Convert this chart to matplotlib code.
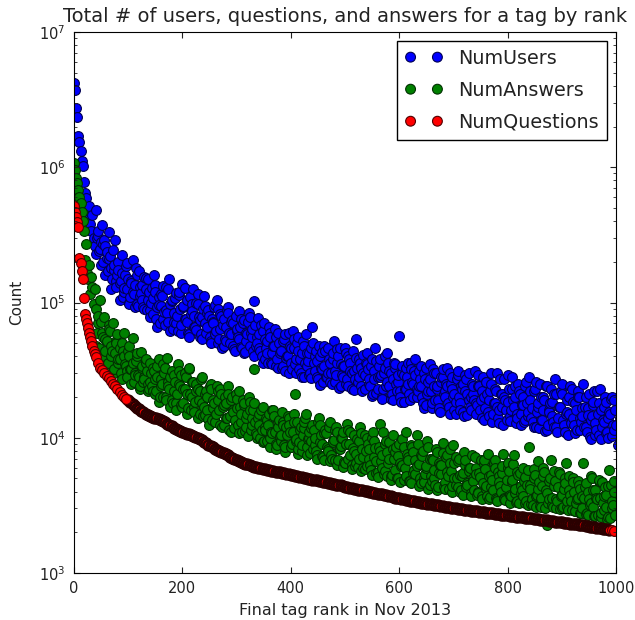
import numpy as np
import matplotlib
matplotlib.use('Agg')
import matplotlib.pyplot as plt

# first 40 ranks are read every 2, the rest every 4, the *_b and *_c lists fill the ranks between
head_rank = list(range(0, 40, 2))

users_head = [4200000, 3700000, 2750000, 2350000, 1700000, 1550000, 1320000, 1120000, 1030000, 780000,
              640000, 590000, 470000, 420000, 520000, 380000, 340000, 440000, 300000, 260000]
users_tail = [
    480000, 310000, 250000, 375000, 290000, 215000, 330000, 180000, 245000, 290000, 160000, 140000, 225000, 120000, 185000, 150000, 110000, 205000, 135000, 98000, 170000, 118000, 92000, 152000, 105000,
    88000, 128000, 160000, 75000, 110000, 95000, 132000, 68000, 84000, 150000, 102000, 72000, 118000, 62000, 90000, 138000, 76000, 105000, 58000, 82000, 125000, 66000, 98000, 56000, 78000,
    112000, 60000, 88000, 52000, 72000, 96000, 105000, 54000, 80000, 48000, 66000, 92000, 50000, 74000, 45000, 62000, 86000, 47000, 70000, 43000, 58000, 78000, 56000, 103000, 48000,
    77000, 44000, 62000, 38000, 52000, 66000, 36000, 48000, 34000, 60000, 42000, 33000, 54000, 39000, 30000, 46000, 62000, 35000, 50000, 32000, 42000, 28000, 58000, 37000, 30000,
    66000, 40000, 28000, 48000, 33000, 26000, 44000, 30000, 36000, 25000, 52000, 29000, 40000, 24000, 34000, 46000, 27000, 38000, 23000, 31000, 54000, 26000, 36000, 22000, 29000,
    42000, 25000, 34000, 21000, 46000, 28000, 38000, 20000, 30000, 24000, 36000, 19500, 27000, 33000, 22000, 57000, 18500, 29000, 23000, 36000, 19000, 26000, 31000, 20000, 24000,
    34000, 18000, 27000, 21000, 35000, 16500, 24000, 30000, 19000, 15500, 28000, 22000, 33000, 17000, 25000, 20000, 15000, 29000, 18000, 23000, 14500, 27000, 19000, 16000, 21000,
    31000, 17500, 24000, 14000, 20000, 26000, 15500, 22000, 13000, 18000, 30000, 16000, 21000, 12500, 19000, 29000, 14500, 23000, 17000, 12800, 25000, 15000, 20000, 13500, 18000,
    28000, 14000, 22000, 12000, 17000, 25000, 13500, 19000, 11500, 16000, 23000, 13000, 27000, 11000, 17000, 21000, 12500, 15000, 10500, 24000, 14000, 18000, 11500, 20000, 13000,
    25000, 12000, 16500, 10200, 14500, 22000, 11500, 18000, 9800, 13500, 20000, 11000, 15500, 10300, 19000, 12500, 8800, 14000, 21000, 11000]
users_b = [
    300000, 240000, 280000, 200000, 260000, 170000, 220000, 150000, 190000, 130000, 175000, 145000, 110000, 160000, 125000, 98000, 140000, 115000, 180000, 95000, 130000, 105000, 155000, 88000, 120000,
    100000, 82000, 120000, 92000, 70000, 112000, 85000, 130000, 72000, 98000, 64000, 108000, 80000, 120000, 68000, 94000, 75000, 60000, 110000, 86000, 66000, 100000, 78000, 58000, 90000,
    70000, 84000, 56000, 76000, 92000, 62000, 50000, 82000, 68000, 54000, 88000, 60000, 72000, 48000, 80000, 56000, 66000, 46000, 74000, 52000, 84000, 60000, 44000, 68000, 50000,
    58000, 40000, 70000, 46000, 36000, 56000, 42000, 64000, 38000, 50000, 44000, 34000, 58000, 40000, 48000, 32000, 54000, 38000, 44000, 30000, 52000, 36000, 42000, 29000, 46000,
    36000, 44000, 27000, 40000, 32000, 48000, 28000, 38000, 30000, 42000, 26000, 36000, 46000, 29000, 34000, 25000, 40000, 31000, 44000, 27000, 33000, 38000, 24000, 30000, 36000,
    32000, 24000, 38000, 27000, 21500, 34000, 29000, 23000, 40000, 26000, 31000, 21000, 36000, 25000, 29000, 20000, 34000, 23000, 28000, 21000, 32000, 25000, 38000, 22000, 27000,
    20000, 30000, 17500, 26000, 22000, 32000, 19000, 24000, 16500, 28000, 21000, 25000, 18000, 30000, 23000, 16000, 27000, 20000, 24000, 15500, 29000, 21000, 17000, 25000, 19000,
    15000, 24000, 19000, 28000, 16500, 21000, 14500, 25000, 18000, 22000, 14000, 27000, 17000, 20000, 13500, 23000, 16000, 19000, 24000, 14000, 21000, 17500, 13000, 26000, 15500,
    19000, 13000, 23000, 15500, 11800, 20000, 16000, 24000, 12500, 18000, 14500, 21000, 12000, 17000, 22000, 13500, 11000, 19000, 15000, 23000, 12500, 16000, 20000, 11500, 14500,
    17000, 11000, 21000, 13500, 18500, 10500, 15000, 23000, 12000, 17000, 10800, 14000, 19500, 12500, 16000]
users_c = [
    230000, 340000, 190000, 270000, 160000, 235000, 210000, 125000, 175000, 145000, 200000, 105000, 165000, 128000, 195000, 100000, 145000, 120000, 92000, 160000, 112000, 135000, 90000, 125000, 150000,
    78000, 108000, 135000, 66000, 96000, 115000, 76000, 88000, 125000, 62000, 104000, 84000, 70000, 114000, 60000, 92000, 128000, 72000, 56000, 98000, 80000, 63000, 115000, 74000, 54000,
    94000, 66000, 80000, 50000, 70000, 58000, 90000, 64000, 46000, 76000, 52000, 84000, 58000, 70000, 44000, 64000, 54000, 76000, 42000, 60000, 72000, 48000, 64000, 40000, 56000,
    46000, 68000, 36000, 54000, 42000, 60000, 35000, 48000, 56000, 33000, 44000, 52000, 31000, 40000, 60000, 36000, 46000, 30000, 56000, 38000, 28000, 48000, 34000, 42000, 27500,
    50000, 31000, 37000, 24500, 43000, 34000, 28000, 46000, 26000, 38000, 31000, 45000, 23500, 35000, 28000, 42000, 24000, 36000, 30000, 22500, 39000, 28000, 33000, 41000, 23000,
    35000, 27000, 20500, 31000, 37000, 23000, 28000, 19500, 33000, 42000, 24000, 30000, 19000, 35000, 26000, 22000, 30000, 18500, 33000, 25000, 36000, 20000, 29000, 23000, 31000,
    24000, 16500, 33000, 22000, 27000, 18000, 30000, 23000, 16000, 26000, 32000, 20000, 24000, 15000, 28000, 21000, 18500, 31000, 16000, 25000, 22000, 14800, 30000, 20000, 24000,
    18000, 29000, 16000, 22000, 13500, 26000, 19000, 30000, 15000, 23000, 17000, 12800, 21000, 27000, 16000, 18500, 13200, 28000, 20000, 15000, 22000, 12500, 17500, 24000, 14500,
    22000, 16500, 12000, 26000, 18000, 13500, 20000, 11200, 24000, 15500, 18500, 12000, 21000, 14000, 17000, 25000, 11000, 15500, 20000, 12800, 18500, 10800, 22000, 14000, 16500,
    12000, 20000, 14800, 9800, 17500, 12800, 22000, 10500, 16000, 13000, 18500, 10000, 15000, 20000, 11500]

answers_head = [1070000, 960000, 830000, 760000, 675000, 600000, 540000, 470000, 400000, 340000,
                205000, 270000, 165000, 150000, 190000, 115000, 155000, 130000, 98000, 125000]
answers_tail = [
    90000, 70000, 105000, 60000, 78000, 52000, 68000, 48000, 70000, 42000, 58000, 38000, 50000, 59000, 34000, 44000, 32000, 55000, 30000, 40000, 28000, 43000, 26000, 36000, 25000,
    36000, 24000, 31000, 22000, 38000, 27000, 20000, 33000, 39000, 23000, 19000, 29000, 18000, 35000, 24000, 17000, 30000, 21000, 32000, 16000, 26000, 18500, 23000, 15000, 28000,
    17000, 22000, 13800, 25000, 19000, 13000, 24000, 16000, 21000, 12500, 18000, 24000, 14500, 20000, 11800, 16500, 22000, 13000, 19000, 11200, 15000, 18500, 12500, 32000, 10800,
    14000, 10000, 17000, 12000, 9500, 15000, 11000, 16000, 9000, 13000, 10300, 15500, 8800, 12000, 14000, 8500, 11000, 21000, 13000, 9300, 8000, 11800, 15000, 9800, 7700,
    12500, 8800, 7500, 14000, 10500, 7200, 11500, 8300, 13000, 7000, 9700, 12000, 6800, 8700, 11000, 6500, 12700, 9000, 6300, 10500, 7600, 6100, 12000, 8300, 5900,
    10000, 7000, 5800, 11000, 8400, 5600, 12700, 7500, 5400, 9500, 6500, 5200, 10500, 7800, 5000, 9000, 6200, 4900, 11000, 7200, 4750, 8500, 5800, 10500, 6400,
    4600, 8000, 5400, 9500, 4500, 7000, 5000, 8200, 4300, 6300, 9200, 4700, 7400, 4200, 5700, 8800, 4500, 6700, 4000, 5200, 7800, 4300, 6000, 3900, 5000,
    7200, 3800, 5500, 3700, 6400, 4200, 7600, 3650, 4900, 6800, 3500, 5200, 4000, 7600, 3450, 6000, 3800, 4700, 7500, 3350, 5300, 3900, 6000, 3300, 4500,
    8500, 3250, 5000, 3700, 6700, 3150, 4400, 5600, 2250, 3500, 6800, 3050, 4800, 3400, 5400, 3000, 4200, 6500, 2900, 3800, 5000, 2850, 3500, 4500, 2800,
    6500, 2750, 4000, 3200, 5000, 2650, 3600, 4800, 2600, 3300, 4300, 2500, 5800, 3000, 4000]
answers_b = [
    60000, 46000, 72000, 40000, 54000, 36000, 62000, 44000, 32000, 50000, 38000, 30000, 44000, 35000, 28000, 40000, 32000, 26000, 37000, 29000, 24000, 34000, 27000, 31000, 23000,
    30000, 22000, 27000, 34000, 20000, 25000, 30000, 19000, 24000, 28000, 18000, 26000, 21000, 31000, 17500, 23000, 28000, 16500, 21000, 26000, 15500, 22000, 19000, 27000, 14500,
    21000, 16000, 24000, 13500, 18000, 15000, 22000, 12500, 17000, 20000, 14000, 11500, 19000, 15500, 21000, 12500, 17000, 11000, 18000, 14000, 20000, 11500, 16000, 13000, 10500,
    15000, 11500, 9500, 14000, 12500, 10000, 16000, 11000, 8800, 13500, 10500, 12500, 8500, 14500, 11000, 9000, 13000, 9800, 8200, 12000, 10500, 14000, 8500, 11000, 9500,
    11500, 8000, 13000, 9300, 7300, 10800, 8600, 12000, 7400, 9300, 6900, 11000, 8200, 10000, 6600, 9000, 11500, 7400, 8400, 6200, 9800, 7000, 10800, 6000, 8000,
    9000, 6300, 10000, 7200, 5500, 8600, 6700, 11000, 5700, 7800, 9300, 5300, 7000, 8600, 5000, 6500, 9800, 6000, 7600, 4800, 8800, 5500, 6800, 9000, 5000,
    7300, 4700, 6200, 8500, 5200, 6900, 4500, 7800, 5500, 6300, 4300, 7200, 5200, 8300, 4400, 6500, 5000, 7000, 4100, 5500, 6800, 4500, 6000, 7400, 4100,
    5400, 3900, 6800, 4600, 5900, 3700, 5200, 4300, 6500, 3600, 5600, 4400, 6200, 3500, 4900, 5700, 3700, 6400, 4200, 3400, 5500, 4100, 4800, 3400, 5800,
    4200, 3200, 5300, 3800, 4700, 3100, 6000, 4100, 3300, 5000, 3600, 4400, 3000, 5600, 3700, 3100, 4600, 3400, 5200, 2900, 4000, 3300, 4800, 2800, 3700,
    4300, 2800, 3500, 5200, 3100, 4100, 2700, 3600, 4700, 2900, 3800, 2600, 4500, 3200, 2700]
answers_c = [
    48000, 80000, 38000, 56000, 44000, 34000, 64000, 40000, 30000, 52000, 36000, 46000, 27000, 40000, 31000, 48000, 25000, 36000, 29000, 42000, 23000, 33000, 28000, 38000, 22000,
    26000, 33000, 21000, 28000, 18500, 24000, 35000, 20000, 26000, 17000, 31000, 22000, 16000, 25000, 29000, 18000, 23000, 15000, 33000, 20000, 17000, 25000, 14000, 22000, 18000,
    14800, 20000, 12500, 23000, 16500, 13000, 19000, 23000, 12000, 17500, 14000, 21000, 11000, 16000, 13500, 19500, 10800, 15000, 17500, 12000, 10300, 16000, 14000, 18000, 10000,
    12500, 16000, 9300, 11500, 13500, 8600, 10800, 14500, 8300, 12000, 9500, 13000, 7900, 10500, 12500, 8500, 15000, 9500, 7600, 11500, 8800, 13000, 7500, 10000, 11800,
    8300, 10000, 7000, 12500, 9000, 6800, 10800, 8000, 6700, 9500, 11500, 6300, 8200, 10000, 6100, 9000, 7000, 11000, 5900, 8000, 6500, 9500, 5700, 7200, 10500,
    6200, 8200, 5300, 9500, 6700, 5100, 8000, 6000, 9000, 5200, 7000, 4900, 8200, 5800, 7300, 4700, 6300, 8500, 5200, 6800, 4600, 7800, 5400, 6200, 4400,
    7400, 5000, 6000, 4200, 7000, 4800, 5800, 4100, 6500, 5400, 7700, 4200, 5600, 6500, 4000, 5000, 7200, 4300, 5300, 3800, 6300, 4600, 5700, 3700, 4800,
    6000, 4000, 5100, 3500, 6800, 4400, 3500, 5300, 4100, 6000, 3400, 4700, 5500, 3600, 4300, 6500, 3300, 4900, 3900, 5600, 3300, 4400, 3700, 5100, 3200,
    4500, 3500, 5900, 3100, 4200, 3600, 5200, 3000, 3900, 4800, 3200, 5700, 3500, 4300, 2950, 3800, 5000, 3100, 4100, 3400, 4700, 2850, 3600, 4200, 3000,
    3600, 4600, 2700, 3300, 4100, 2650, 3500, 4900, 2800, 3700, 3100, 4400, 2550, 3400, 4800]

questions_head = [520000, 470000, 430000, 395000, 360000, 215000, 195000, 170000, 150000, 108000,
                  82000, 76000, 70000, 65000, 60000, 56000, 52000, 48000, 44000, 41500]
questions_tail = [
    39500, 35500, 33000, 31500, 30000, 28800, 27500, 26200, 25000, 24000, 22800, 21800, 20800, 20000, 19500, 18900, 18300, 17700, 17200, 16700, 16200, 15800, 15400, 15100, 14800,
    14500, 14300, 14100, 13900, 13700, 13500, 13300, 13000, 12700, 12400, 12200, 11900, 11700, 11500, 11300, 11100, 10900, 10750, 10600, 10450, 10300, 10150, 10000, 9800, 9600,
    9350, 9100, 8900, 8700, 8500, 8300, 8150, 8000, 7850, 7700, 7550, 7400, 7250, 7100, 7000, 6850, 6750, 6650, 6550, 6450, 6350, 6250, 6180, 6100, 6050,
    6000, 5950, 5900, 5850, 5800, 5750, 5700, 5660, 5620, 5580, 5540, 5500, 5450, 5400, 5370, 5330, 5290, 5250, 5200, 5150, 5100, 5060, 5020, 4980, 4940,
    4900, 4870, 4840, 4810, 4780, 4740, 4700, 4660, 4620, 4580, 4540, 4500, 4470, 4440, 4400, 4360, 4320, 4280, 4240, 4200, 4170, 4140, 4110, 4080, 4050,
    4020, 3990, 3960, 3930, 3900, 3870, 3840, 3810, 3780, 3750, 3720, 3690, 3650, 3610, 3590, 3570, 3540, 3510, 3480, 3450, 3420, 3400, 3380, 3360, 3340,
    3320, 3300, 3280, 3260, 3240, 3220, 3200, 3180, 3160, 3140, 3120, 3100, 3080, 3060, 3040, 3020, 3000, 2985, 2970, 2955, 2940, 2925, 2910, 2895, 2880,
    2870, 2860, 2845, 2830, 2815, 2800, 2790, 2775, 2760, 2745, 2735, 2720, 2705, 2690, 2680, 2665, 2650, 2640, 2630, 2615, 2605, 2590, 2580, 2565, 2555,
    2540, 2530, 2515, 2505, 2495, 2480, 2470, 2460, 2445, 2435, 2425, 2410, 2400, 2385, 2375, 2365, 2355, 2340, 2330, 2320, 2310, 2295, 2285, 2275, 2265,
    2250, 2235, 2220, 2205, 2190, 2180, 2165, 2150, 2140, 2125, 2110, 2100, 2085, 2070, 2055]

fig = plt.figure(figsize=(6.35, 6.2), dpi=100)
ax = fig.add_axes([74 / 635, 1 - 573 / 620, 542 / 635, 541 / 620])
edge = '#101030'
size = 50


def ranks(start, vals):
    return list(range(start, start + 4 * len(vals), 4))


# users and answers, drawn as one scatter each so the order inside a series is by rank
for name, col, ec, head, tail, b, c in [('NumUsers', 'blue', '#000050', users_head, users_tail, users_b, users_c),
                                        ('NumAnswers', 'green', '#003000', answers_head, answers_tail, answers_b, answers_c)]:
    xs = np.array(head_rank + ranks(40, tail) + ranks(42, b) + ranks(41, c))
    ys = np.array(head + tail + b + c)
    order = np.argsort(xs, kind='stable')
    ax.scatter(xs[order], ys[order], s=size, c=col, edgecolors=ec, linewidths=0.8, label=name)

# questions: the tight part of the band gets a heavier edge, it reads dark maroon when overlapped
xs = np.array(head_rank + ranks(40, questions_tail))
ys = np.array(questions_head + questions_tail)
tight = (xs >= 100) & (xs < 992)
ax.scatter(xs[tight], ys[tight], s=size, c='red', edgecolors='#2a0000', linewidths=1.8)
ax.scatter(xs[~tight], ys[~tight], s=size, c='red', edgecolors='#500000', linewidths=0.8, label='NumQuestions')

ax.set_yscale('log')
ax.set_xlim(0, 1000)
ax.set_ylim(1e3, 1e7)
ax.tick_params(which='both', direction='in', top=True, right=True, labelsize=10.5, colors='#222222', pad=6)
ax.tick_params(which='major', length=4)
ax.tick_params(which='minor', length=2)
ax.set_xlabel('Final tag rank in Nov 2013', fontsize=11.5, color='#222222', labelpad=5)
ax.set_ylabel('Count', fontsize=11, color='#222222', labelpad=11)
ax.set_title('Total # of users, questions, and answers for a tag by rank', fontsize=14, color='#222222', pad=7)

ax.legend(loc='upper right', bbox_to_anchor=(0.983, 0.983), borderaxespad=0, fontsize=13.8,
          scatterpoints=2, scatteryoffsets=[0.5], fancybox=False, framealpha=1, edgecolor='black',
          labelcolor='#222222', labelspacing=0.68)

plt.savefig('out.png', dpi=100)
plt.close('all')
